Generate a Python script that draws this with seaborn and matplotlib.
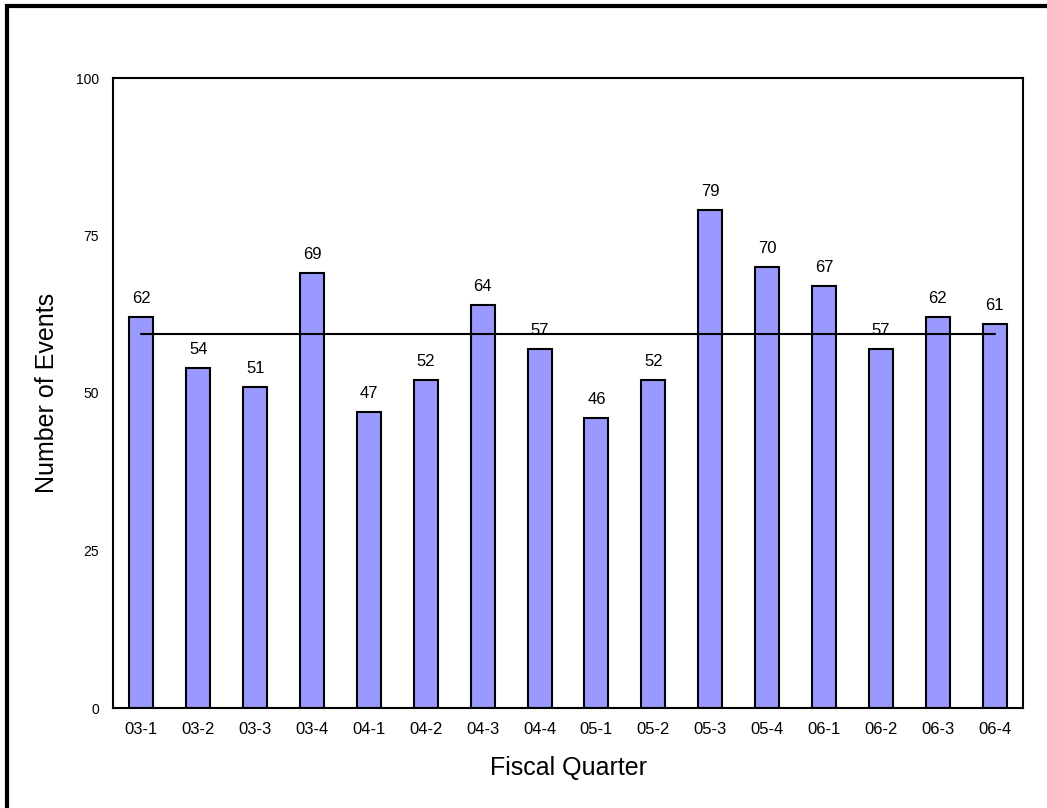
import matplotlib
matplotlib.use("Agg")
import matplotlib.pyplot as plt
import seaborn as sns
import pandas as pd
from matplotlib.patches import Rectangle

quarters = ["03-1", "03-2", "03-3", "03-4", "04-1", "04-2", "04-3", "04-4",
            "05-1", "05-2", "05-3", "05-4", "06-1", "06-2", "06-3", "06-4"]
events = [62, 54, 51, 69, 47, 52, 64, 57, 46, 52, 79, 70, 67, 57, 62, 61]
y_ticks = [0, 25, 50, 75, 100]

sns.set_theme(style="white")
plt.rcParams["font.family"] = ["Liberation Sans", "DejaVu Sans"]
plt.rcParams["text.color"] = "black"
plt.rcParams["axes.labelcolor"] = "black"
plt.rcParams["xtick.color"] = "black"
plt.rcParams["ytick.color"] = "black"

df = pd.DataFrame({"quarter": quarters, "events": events})
mean_events = df["events"].mean()

fig = plt.figure(figsize=(10.47, 8.08), dpi=100)
ax = fig.add_axes([113 / 1047, 100 / 808, (1023 - 113) / 1047, (708 - 78) / 808])

sns.barplot(data=df, x="quarter", y="events", color="#9999FF", saturation=1,
            width=0.42, edgecolor="black", linewidth=1.5, ax=ax, zorder=2)

# average level across all quarters
ax.plot([0, len(quarters) - 1], [mean_events, mean_events], color="black",
        linewidth=1.5, zorder=3)

for container in ax.containers:
    ax.bar_label(container, labels=[str(v) for v in events], padding=8,
                 fontsize=12, color="black")

ax.set_ylim(0, 100)
ax.set_xlim(-0.5, len(quarters) - 0.5)
ax.set_yticks(y_ticks)
ax.set_yticklabels([str(t) for t in y_ticks], fontsize=10)
ax.tick_params(axis="y", length=0, pad=10, colors="black")
ax.tick_params(axis="x", length=0, pad=10, labelsize=12, colors="black")
ax.set_xlabel("Fiscal Quarter", fontsize=18, labelpad=14, color="black")
ax.set_ylabel("Number of Events", fontsize=18, labelpad=12, color="black")

for side in ["left", "right", "top", "bottom"]:
    ax.spines[side].set_visible(True)
    ax.spines[side].set_color("black")
    ax.spines[side].set_linewidth(1.5)

# outer chart frame
fig.patches.append(Rectangle((6.5 / 1047, -0.05), 1.2, (808 - 6.5) / 808 + 0.05,
                             transform=fig.transFigure, fill=False,
                             edgecolor="black", linewidth=3))

fig.savefig("out.png", dpi=100)
